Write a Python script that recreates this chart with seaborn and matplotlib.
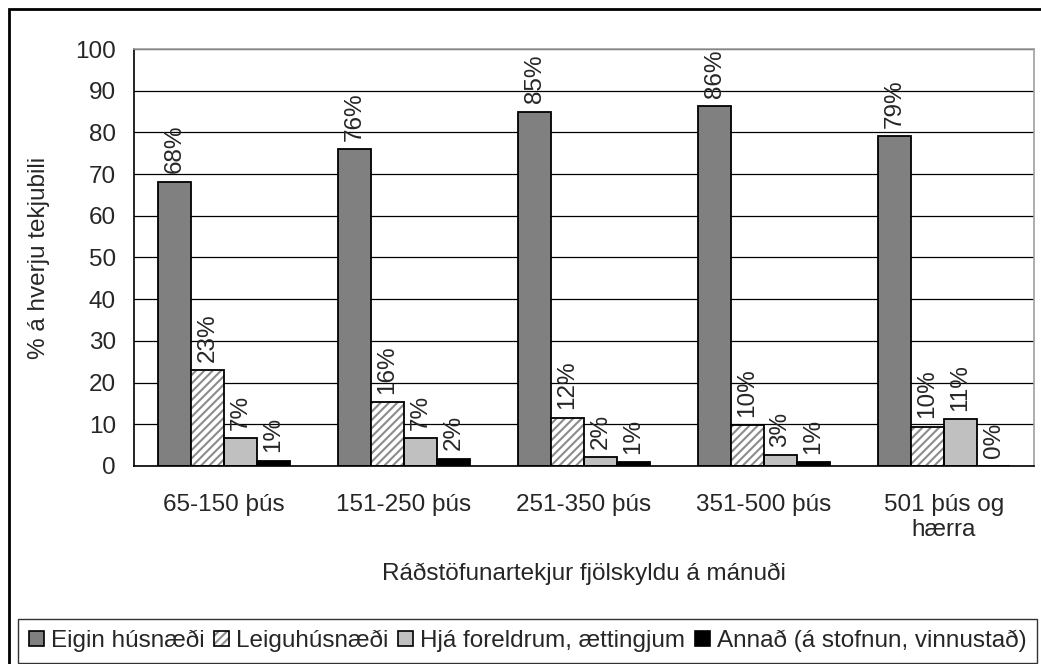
import numpy as np
import pandas as pd
import seaborn as sns
import matplotlib.pyplot as plt
from matplotlib.patches import Rectangle
from matplotlib.legend_handler import HandlerTuple

# tekjubil (x flokkar)
groups = ['65-150 þús', '151-250 þús', '251-350 þús', '351-500 þús', '501 þús og\nhærra']
series = ['Eigin húsnæði', 'Leiguhúsnæði', 'Hjá foreldrum, ættingjum', 'Annað (á stofnun, vinnustað)']

# bar heights
eigin = [68.2, 75.9, 85.0, 86.3, 79.1]
leigu = [23.0, 15.3, 11.6, 9.8, 9.4]
foreldrar = [6.6, 6.6, 2.1, 2.6, 11.2]
annad = [1.3, 1.75, 0.9, 0.9, 0.0]

# printed labels
eigin_lbl = [68, 76, 85, 86, 79]
leigu_lbl = [23, 16, 12, 10, 10]
foreldrar_lbl = [7, 7, 2, 3, 11]
annad_lbl = [1, 2, 1, 1, 0]

colors = ['#808080', '#ffffff', '#c0c0c0', '#000000']

values = [eigin, leigu, foreldrar, annad]
labels = [eigin_lbl, leigu_lbl, foreldrar_lbl, annad_lbl]

df = pd.DataFrame({
    'tekjubil': np.tile(groups, len(series)),
    'husnaedi': np.repeat(series, len(groups)),
    'hlutfall': np.concatenate(values),
})

sns.set_style('white')
plt.rcParams['font.family'] = ['Liberation Sans', 'DejaVu Sans']
plt.rcParams['hatch.linewidth'] = 1.5

fig = plt.figure(figsize=(10.41, 6.64), dpi=100)
ax = fig.add_axes([0.1287, 0.2982, 0.8646, 0.628])

sns.barplot(data=df, x='tekjubil', y='hlutfall', hue='husnaedi',
            order=groups, hue_order=series, palette=colors,
            edgecolor='black', linewidth=1.3, width=0.733,
            errorbar=None, legend=False, ax=ax)

# gray hatch on the rented series, black outline drawn on top
for p in ax.containers[1]:
    p.set_hatch('////')
    p.set_edgecolor('#8c8c8c')
    p.set_linewidth(0)
    ax.add_patch(Rectangle((p.get_x(), p.get_y()), p.get_width(), p.get_height(),
                           fill=False, edgecolor='black', linewidth=1.3, zorder=p.get_zorder() + 0.1))

fs = 17.5
for cont, lbls in zip(ax.containers, labels):
    for bar, lb in zip(cont, lbls):
        ax.annotate('{}%'.format(lb),
                    (bar.get_x() + bar.get_width() / 2, bar.get_height()),
                    xytext=(0, 6), textcoords='offset points',
                    rotation=90, ha='center', va='bottom', fontsize=fs)

ax.set_ylim(0, 100)
ax.set_yticks(np.arange(0, 101, 10))
ax.set_xlim(-0.5, 4.5)
ax.set_xticks(np.arange(-0.5, 5, 1), minor=True)
ax.tick_params(axis='x', which='major', length=0, pad=20, labelsize=fs)
ax.tick_params(axis='x', which='minor', length=6, width=1, direction='out', color='black')
ax.tick_params(axis='y', length=6, width=1, direction='out', color='black', pad=7, labelsize=fs)

ax.yaxis.grid(True, color='black', linewidth=0.9)
ax.set_axisbelow(True)

for s in ['left', 'bottom']:
    ax.spines[s].set_color('black')
    ax.spines[s].set_linewidth(1.2)
for s in ['top', 'right']:
    ax.spines[s].set_color('#a0a0a0')
    ax.spines[s].set_linewidth(1.2)

ax.set_ylabel('% á hverju tekjubili', fontsize=fs)
ax.set_xlabel('Ráðstöfunartekjur fjölskyldu á mánuði', fontsize=fs)
ax.yaxis.set_label_coords(-0.093, 0.5)
ax.xaxis.set_label_coords(0.5, -0.233)

handles = []
for i, c in enumerate(ax.containers):
    h = Rectangle((0, 0), 1, 1, facecolor=colors[i], edgecolor='black', linewidth=1.2)
    if i == 1:
        hh = Rectangle((0, 0), 1, 1, facecolor='white', edgecolor='#8c8c8c',
                       linewidth=0, hatch='////')
        h = (hh, Rectangle((0, 0), 1, 1, fill=False, edgecolor='black', linewidth=1.2))
    handles.append(h)
leg = fig.legend(handles, series, loc='center', bbox_to_anchor=(0.507, 0.035),
                 ncol=4, fontsize=fs, frameon=True, fancybox=False,
                 handlelength=0.6, handleheight=0.6, handletextpad=0.3,
                 columnspacing=0.4, borderpad=0.45, borderaxespad=0,
                 handler_map={tuple: HandlerTuple(ndivide=1, pad=0)})
leg.get_frame().set_edgecolor('black')
leg.get_frame().set_linewidth(1.0)

# outer frame, cut at the right and bottom edges
fig.patches.append(Rectangle((9 / 1041, -0.1), 1.2, 1 - 9 / 664 + 0.1,
                             transform=fig.transFigure, fill=False,
                             edgecolor='black', linewidth=2, zorder=-1))

fig.savefig('out.png', dpi=100)
plt.close('all')
